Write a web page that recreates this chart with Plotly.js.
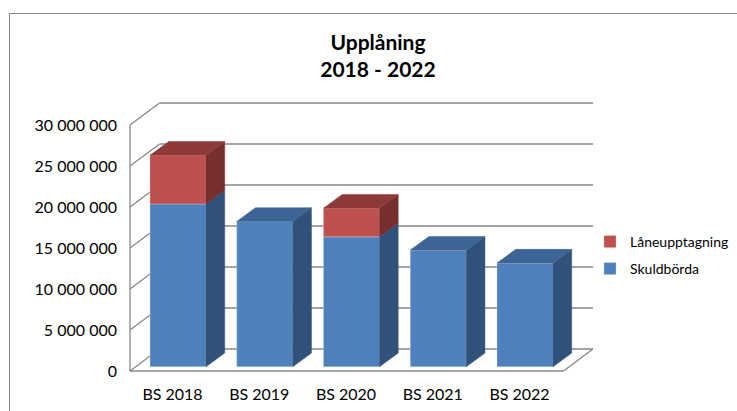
<!DOCTYPE html>
<html>
<head>
<meta charset="utf-8">
<script src="https://cdn.plot.ly/plotly-3.0.1.min.js"></script>
<style>
  html, body { margin: 0; padding: 0; background: #fff; }
  #wrap { position: relative; width: 737px; height: 411px; overflow: hidden; }
  #chart { position: absolute; left: 0; top: 0; width: 737px; height: 411px; }
  #frame { position: absolute; left: 9px; top: 13px; width: 760px; height: 440px;
           border: 1.5px solid #8a8a8a; pointer-events: none; }
</style>
</head>
<body>
<div id="wrap"><div id="chart"></div><div id="frame"></div></div>
<script>
// ---- data ----
const categories = ['BS 2018', 'BS 2019', 'BS 2020', 'BS 2021', 'BS 2022'];
const skuldborda = [19850000, 17730000, 15850000, 14230000, 12650000];
const laneupptagning = [5950000, 0, 3500000, 0, 0];
const yTickVals = [0, 5000000, 10000000, 15000000, 20000000, 25000000, 30000000];
const seriesNames = ['Skuldbörda', 'Låneupptagning'];

// ---- geometry (pixel-based pseudo-3D projection) ----
const W = 737, H = 411;
const M = { l: 126, r: 141, t: 98, b: 34, autoexpand: false };
const PX_X = 86.75;          // px per category
const X0_PX = 172.5;         // px of category 0 centre on the front plane
const PX_Y = 8.2 / 1e6;      // px per unit value
const Y0_PX = 371;           // px of value 0 on the front plane
const px2x = p => p / PX_X;
const px2y = p => p / PX_Y;
const xRange = [(M.l - X0_PX) / PX_X, (W - M.r - X0_PX) / PX_X];
const yRange = [(Y0_PX - (H - M.b)) / PX_Y, (Y0_PX - M.t) / PX_Y];
const wallDX = px2x(29.5), wallDY = px2y(22);
const frontX = (130 - X0_PX) / PX_X;
const backRightX = (593 - X0_PX) / PX_X;
const barOffX = px2x(5.5), barOffY = px2y(4.2);
const barDX = px2x(18.7), barDY = px2y(13.7);
const barW = 56 / PX_X;

const colors = {
  blueFront: '#4F81BD', blueSide: '#30527A', blueTop: '#3C6494',
  redFront: '#C0504D', redSide: '#772F2E', redTop: '#8E3A39',
  grid: '#878787'
};

// ---- walls as shapes ----
const shapes = [];
function seg(x0, y0, x1, y1) {
  shapes.push({ type: 'line', xref: 'x', yref: 'y', x0, y0, x1, y1, layer: 'below',
                line: { color: colors.grid, width: 1.3 } });
}
yTickVals.forEach(v => {
  seg(frontX, v, frontX + wallDX, v + wallDY);
  seg(frontX + wallDX, v + wallDY, backRightX, v + wallDY);
});
seg(frontX, 0, frontX, yTickVals[yTickVals.length - 1]);
seg(frontX, 0, backRightX - wallDX, 0);
seg(backRightX - wallDX, 0, backRightX, wallDY);

// ---- bars ----
const xs = categories.map((c, i) => i + barOffX);
const traces = [];
traces.push({
  type: 'bar', name: seriesNames[0], x: xs, y: skuldborda,
  base: skuldborda.map(() => barOffY), width: barW,
  marker: { color: colors.blueFront, line: { color: 'rgba(200,215,235,0.6)', width: 0.6 } },
  legend: 'legend2', hoverinfo: 'skip'
});
traces.push({
  type: 'bar', name: seriesNames[1], x: xs, y: laneupptagning,
  base: skuldborda.map(v => barOffY + v), width: barW,
  marker: { color: colors.redFront, line: { color: 'rgba(235,200,200,0.6)', width: 0.6 } },
  legend: 'legend', hoverinfo: 'skip'
});

function face(px, py, color) {
  traces.push({
    type: 'scatter', mode: 'lines', x: px.concat([px[0]]), y: py.concat([py[0]]),
    fill: 'toself', fillcolor: color, line: { color: color, width: 0.5 },
    showlegend: false, hoverinfo: 'skip'
  });
}
xs.forEach((xc, i) => {
  const xl = xc - barW / 2, xr = xc + barW / 2;
  const b = barOffY, yt = b + skuldborda[i], yr = yt + laneupptagning[i];
  face([xr, xr + barDX, xr + barDX, xr], [b, b + barDY, yt + barDY, yt], colors.blueSide);
  if (laneupptagning[i] > 0) {
    face([xr, xr + barDX, xr + barDX, xr], [yt, yt + barDY, yr + barDY, yr], colors.redSide);
  }
  const topColor = laneupptagning[i] > 0 ? colors.redTop : colors.blueTop;
  face([xl, xl + barDX, xr + barDX, xr], [yr, yr + barDY, yr + barDY, yr], topColor);
});

const font = 'Lato, "Open Sans", sans-serif';
const plotW = W - M.l - M.r, plotH = H - M.t - M.b;
const legX = (590 - M.l) / plotW;

const layout = {
  width: W, height: H, margin: M,
  paper_bgcolor: '#fff', plot_bgcolor: 'rgba(0,0,0,0)',
  separators: ', ',
  font: { family: font, size: 16, color: '#000' },
  title: {
    text: '<b>Upplåning</b><br><b>2018 - 2022</b>',
    font: { family: font, size: 21, color: '#000' },
    x: 378 / W, xanchor: 'center', y: 1 - 50 / H, yanchor: 'top', yref: 'container'
  },
  barmode: 'overlay',
  showlegend: true,
  legend: { x: legX, xanchor: 'left', y: (H - M.b - 242) / plotH, yanchor: 'middle',
            font: { family: font, size: 14, color: '#000' }, bgcolor: 'rgba(0,0,0,0)' },
  legend2: { x: legX, xanchor: 'left', y: (H - M.b - 269) / plotH, yanchor: 'middle',
             font: { family: font, size: 14, color: '#000' }, bgcolor: 'rgba(0,0,0,0)' },
  xaxis: {
    range: xRange, tickmode: 'array', tickvals: categories.map((c, i) => i), ticktext: categories,
    showgrid: false, zeroline: false, showline: false, ticks: '', ticklabelstandoff: 6,
    tickfont: { family: font, size: 16, color: '#000' }, fixedrange: true
  },
  yaxis: {
    range: yRange, tickmode: 'array', tickvals: yTickVals, tickformat: ',d',
    showgrid: false, zeroline: false, showline: false, ticks: '', ticklabelstandoff: 8,
    tickfont: { family: font, size: 16, color: '#000' }, fixedrange: true
  },
  shapes: shapes
};

Plotly.newPlot('chart', traces, layout, { displayModeBar: false, staticPlot: true });
</script>
</body>
</html>
